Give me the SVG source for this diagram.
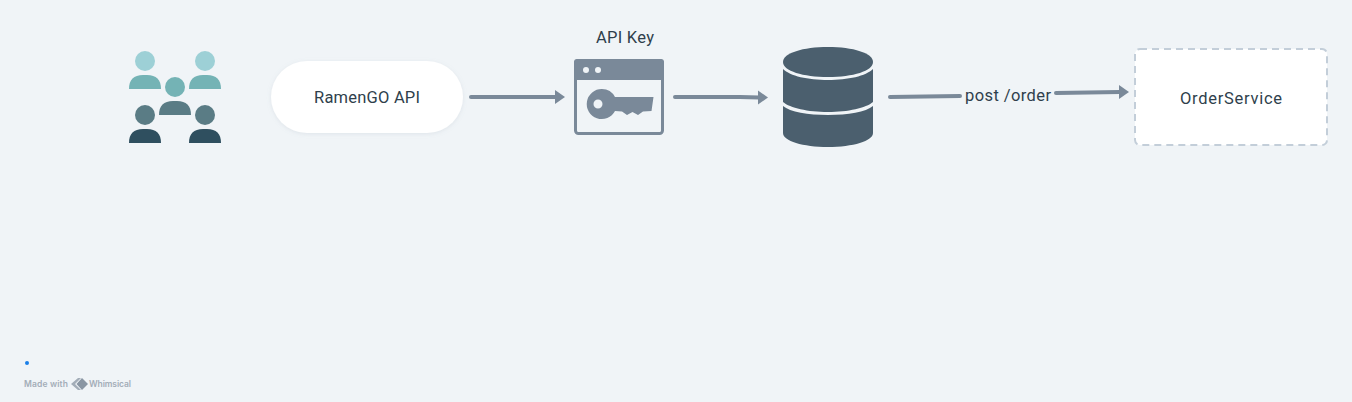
<svg xmlns="http://www.w3.org/2000/svg" width="1352" height="402" viewBox="0 0 1352 402">
<defs>
<style>
.t{font-family:"Roboto","Liberation Sans",sans-serif;font-size:16.5px;fill:#2f3f4c;text-anchor:middle}
.c{fill:none;stroke:#7a8999;stroke-width:4;stroke-linecap:round}
.h{fill:#7a8999}
.f{font-family:"Inter","Liberation Sans",sans-serif;font-size:8.500px;font-weight:600;fill:#a3adb8}
</style>
<filter id="s" x="-10%" y="-10%" width="120%" height="130%"><feDropShadow dx="0" dy="1" stdDeviation="2" flood-color="#8a9aaa" flood-opacity=".18"/></filter>
<path id="body" d="M0 14Q0 0 14 0H18Q32 0 32 14H0Z"/>
</defs>
<rect width="1352" height="402" fill="#f0f4f7"/>
<g id="users">
<circle cx="145" cy="61" r="10" fill="#9dd0d6"/><use href="#body" x="129" y="75" fill="#74b3b5"/>
<circle cx="205" cy="61" r="10" fill="#9dd0d6"/><use href="#body" x="189" y="75" fill="#74b3b5"/>
<circle cx="175" cy="87" r="10" fill="#74b3b5"/><use href="#body" x="159" y="101" fill="#5a7c85"/>
<circle cx="145" cy="115" r="10" fill="#5a7c85"/><use href="#body" x="129" y="129" fill="#2f4f5f"/>
<circle cx="205" cy="115" r="10" fill="#5a7c85"/><use href="#body" x="189" y="129" fill="#2f4f5f"/>
</g>
<g id="ramengo-api">
<rect x="271" y="61" width="192" height="72" rx="36" fill="#fff" filter="url(#s)"/>
<text class="t" x="367" y="103" textLength="106" lengthAdjust="spacing">RamenGO API</text>
</g>
<g id="api-key">
<text class="t" x="625" y="43" textLength="58" lengthAdjust="spacing">API Key</text>
<rect x="575.500" y="60.500" width="87" height="73" rx="3" fill="none" stroke="#7a8999" stroke-width="3"/>
<path class="h" d="M574 80V62Q574 59 577 59H661Q664 59 664 62V80Z"/>
<circle cx="586" cy="70" r="3" fill="#f0f4f7"/><circle cx="598" cy="70" r="3" fill="#f0f4f7"/>
<path class="h" fill-rule="evenodd" d="M602 89A15 15 0 0 1 615 97L653.500 97L651.500 111L643 111.500L638 115L632.500 112L627 115L622 111.500L615 111A15 15 0 1 1 602 89ZM598 99.500A4.500 4.500 0 1 0 598 108.500A4.500 4.500 0 1 0 598 99.500Z"/>
</g>
<g id="database">
<path fill="#4b5f6e" d="M783 62C783 53 803 47 828 47C853 47 873 53 873 62C873 71 853 77 828 77C803 77 783 71 783 62Z"/>
<path fill="#4b5f6e" d="M783 69C790 76 808 80 828 80C848 80 866 76 873 69V102C866 108 848 112 828 112C808 112 790 108 783 102Z"/>
<path fill="#4b5f6e" d="M783 106C790 112 808 115 828 115C848 115 866 112 873 106V133C873 141 853 147 828 147C803 147 783 141 783 133Z"/>
</g>
<g id="order-service">
<rect x="1135" y="49" width="192" height="96" rx="5" fill="#fff" stroke="#c3ced9" stroke-width="2" stroke-dasharray="7 5"/>
<text class="t" x="1231" y="104" textLength="102" lengthAdjust="spacing">OrderService</text>
</g>
<g id="connectors">
<path class="c" d="M471 97H556"/><path class="h" d="M555 90L565 97L555 104Z"/>
<path class="c" d="M675 97H740L759 97.500"/><path class="h" d="M758 90.500L768 97.500L758 104.500Z"/>
<path class="c" d="M890 97L960 96"/>
<path class="c" d="M1056 93L1120 92"/><path class="h" d="M1119 85L1129 92L1119 99Z"/>
<text class="t" x="1008" y="101" textLength="86" lengthAdjust="spacing">post /order</text>
</g>
<g id="footer">
<circle cx="27" cy="363" r="2" fill="#1a7fe8"/>
<text class="f" x="24" y="387" textLength="44" lengthAdjust="spacing">Made with</text>
<path d="M78 378L71 384L78 390L81 390L75 384L81 378Z" fill="#a3adb8"/><path d="M82 378L88 384L82 390L76.500 384Z" fill="#8a96a3"/>
<text class="f" x="89" y="387" textLength="42" lengthAdjust="spacing">Whimsical</text>
</g>
</svg>
